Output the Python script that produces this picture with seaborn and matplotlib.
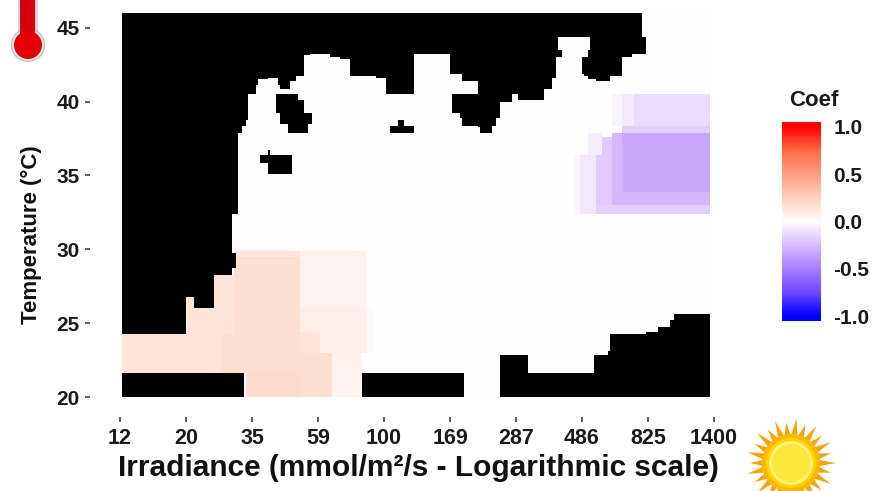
import matplotlib
matplotlib.use("Agg")
import matplotlib.pyplot as plt
from matplotlib.colors import LinearSegmentedColormap
from matplotlib.patches import Circle, FancyBboxPatch, Polygon
import numpy as np
import seaborn as sns

# grid of the model surface: 208 temperature rows, 294 irradiance bins
n_temp = 208
n_irr = 294

irradiance_ticks = [12, 20, 35, 59, 100, 169, 287, 486, 825, 1400]
irradiance_tick_bins = [-1, 32, 65, 98, 131, 164, 197, 230, 263, 296]
temperature_ticks = [20, 25, 30, 35, 40, 45]
temperature_tick_rows = [0, 40, 80, 120, 160, 200]
legend_ticks = [-1.0, -0.5, 0.0, 0.5, 1.0]

# no data: (first bin, last bin, first row) up to the top of the grid
missing_top = [
    (0, 32, 34), (32, 36, 54), (36, 46, 48), (46, 55, 66), (55, 58, 99),
    (58, 60, 143), (60, 62, 147), (62, 63, 150), (63, 67, 164), (67, 68, 169),
    (68, 73, 172), (73, 78, 173), (78, 79, 169), (79, 84, 167), (84, 87, 171),
    (87, 91, 174), (91, 94, 185), (94, 104, 186), (104, 109, 184), (109, 114, 183),
    (114, 127, 174), (127, 132, 173), (132, 146, 164), (146, 164, 186), (164, 170, 175),
    (170, 178, 171), (178, 179, 146), (179, 185, 143), (185, 187, 147), (187, 189, 151),
    (189, 195, 160), (195, 198, 164), (198, 211, 161), (211, 215, 167), (215, 217, 173),
    (217, 218, 184), (218, 230, 195), (230, 260, 195),
    (234, 237, 172), (237, 244, 171), (244, 250, 174), (250, 255, 184), (255, 260, 186),
]

# no data: (first bin, last bin, top row) from the bottom of the grid
missing_bottom = [
    (0, 61, 13), (120, 171, 13), (189, 203, 23), (203, 236, 13), (236, 243, 23),
    (243, 244, 25), (244, 262, 34), (262, 268, 35), (268, 274, 38), (274, 276, 42),
    (276, 294, 45),
]

# no data: (first row, last row, first bin, last bin) for the holes and overhangs
missing_blocks = [
    (70, 78, 55, 57),
    (161, 164, 77, 88), (154, 161, 77, 91), (148, 154, 79, 95), (143, 148, 83, 93),
    (131, 134, 73, 74), (127, 131, 69, 85), (121, 127, 73, 85),
    (143, 147, 134, 146), (147, 150, 138, 141),
    (154, 164, 165, 169), (151, 164, 169, 170), (147, 164, 170, 178),
    (184, 188, 218, 220), (175, 184, 230, 231), (174, 184, 231, 233),
    (172, 188, 233, 234), (186, 195, 260, 262),
]

# coefficient patches: (first row, last row, first bin, last bin, coef)
coef_patches = [
    (13, 34, 0, 50, 0.14), (34, 66, 32, 56, 0.14),
    (79, 81, 55, 112, 0.03), (79, 81, 112, 124, 0.01),
    (34, 79, 56, 89, 0.18), (76, 79, 56, 89, 0.13), (13, 34, 50, 100, 0.18), (0, 13, 62, 100, 0.19),
    (49, 79, 89, 122, 0.06), (35, 49, 89, 122, 0.09),
    (24, 35, 89, 99, 0.15), (24, 35, 99, 122, 0.09),
    (0, 24, 89, 105, 0.18), (0, 24, 105, 120, 0.06),
    (24, 49, 122, 126, 0.03),
    (147, 164, 256, 294, -0.13), (147, 164, 250, 256, -0.08), (147, 164, 245, 250, -0.04),
    (143, 147, 250, 294, -0.18), (111, 143, 250, 294, -0.33), (104, 143, 245, 250, -0.27),
    (104, 111, 250, 294, -0.27), (99, 104, 237, 294, -0.17), (104, 141, 237, 245, -0.19),
    (99, 131, 229, 237, -0.09), (131, 143, 233, 240, -0.07), (99, 131, 226, 229, -0.03),
]


# -----------------------------
# Build the two layers
# -----------------------------
def build_grids():
    coef = np.zeros((n_temp, n_irr))
    missing = np.zeros((n_temp, n_irr), dtype=bool)
    for r0, r1, c0, c1, value in coef_patches:
        coef[r0:r1, c0:c1] = value
    for c0, c1, r0 in missing_top:
        missing[r0:, c0:c1] = True
    for c0, c1, r1 in missing_bottom:
        missing[:r1, c0:c1] = True
    for r0, r1, c0, c1 in missing_blocks:
        missing[r0:r1, c0:c1] = True
    return coef, missing


# -----------------------------
# Thermometer and sun icons
# -----------------------------
def draw_icons(fig):
    over = fig.add_axes([0, 0, 1, 1], zorder=5)
    over.set_xlim(0, 885)
    over.set_ylim(491, 0)
    over.axis("off")

    over.add_patch(FancyBboxPatch((18, -20), 20, 60, boxstyle="round,pad=0", fc="#d8d8d8", ec="none"))
    over.add_patch(Circle((28, 45), 16.5, fc="#e8e8e8", ec="#bbbbbb", lw=0.8))
    over.add_patch(FancyBboxPatch((20, -20), 15, 60, boxstyle="round,pad=0", fc="#d80010", ec="none"))
    over.add_patch(Circle((28, 45), 14, fc="#e30000", ec="none"))
    for y in range(2, 28, 3):
        over.plot([21, 25], [y, y], color="#a00010", lw=0.4)

    angles = np.linspace(0, 2 * np.pi, 53)
    radii = np.where(np.arange(53) % 2 == 0, 43, 29)
    radii = radii + np.where(np.arange(53) % 4 == 0, 2, -2)
    star = np.column_stack([791 + radii * np.cos(angles), 463 + radii * np.sin(angles)])
    over.add_patch(Polygon(star, fc="#f7a40c", ec="none"))
    over.add_patch(Circle((791, 463), 29, fc="#fcb800", ec="none"))
    over.add_patch(Circle((791, 463), 25, fc="#ffd400", ec="none"))
    over.add_patch(Circle((791, 463), 22, fc="#fff27a", ec="none"))
    over.add_patch(Circle((791, 463), 19, fc="#ffe83c", ec="none"))


# -----------------------------
# Heatmap - coefficient surface
# -----------------------------
def coef_heatmap():
    coef, missing = build_grids()

    sns.set_theme(style="white")
    plt.rcParams["font.family"] = ["Liberation Sans", "DejaVu Sans"]
    plt.rcParams["font.weight"] = "bold"

    lim = 1.05
    stops = [
        (-1.05, "#0000ff"), (-1.0, "#0000ff"), (-0.75, "#6e48ff"), (-0.5, "#a880ff"),
        (-0.25, "#d8bbff"), (0.0, "#ffffff"), (0.25, "#ffd0bf"), (0.5, "#ff9e81"),
        (0.75, "#ff6a45"), (1.0, "#ff0000"), (1.05, "#ff0000"),
    ]
    cmap = LinearSegmentedColormap.from_list(
        "coef", [((v + lim) / (2 * lim), c) for v, c in stops]
    )

    fig = plt.figure(figsize=(8.85, 4.91), dpi=100)
    ax = fig.add_axes([90 / 885, 1 - 417 / 491, (714 - 90) / 885, (417 - 13) / 491])
    cax = fig.add_axes([782 / 885, 1 - 321 / 491, 39 / 885, 199 / 491])

    sns.heatmap(
        missing.astype(float), mask=~missing, cmap=["black"], cbar=False,
        xticklabels=False, yticklabels=False, ax=ax,
    )
    sns.heatmap(
        coef, mask=missing, cmap=cmap, vmin=-lim, vmax=lim, cbar_ax=cax,
        xticklabels=False, yticklabels=False, ax=ax,
    )

    ax.set_xlim(-16, 296)
    ax.set_ylim(-10.8, n_temp)
    ax.set_xticks(irradiance_tick_bins)
    ax.set_xticklabels(irradiance_ticks, fontsize=15.5, fontweight="bold", color="#1a1a1a")
    ax.set_yticks(temperature_tick_rows)
    ax.set_yticklabels(temperature_ticks, fontsize=15, fontweight="bold", color="#1a1a1a", rotation=0)
    ax.tick_params(axis="both", bottom=True, left=True, length=3.6, width=1.1, color="#333333", pad=4)
    for side in ax.spines.values():
        side.set_visible(False)

    fig.text(418 / 885, 1 - 468 / 491, "Irradiance (mmol/m²/s - Logarithmic scale)",
             ha="center", va="center", fontsize=21.5, fontweight="bold", color="#111111")
    fig.text(31 / 885, 1 - 235 / 491, "Temperature (°C)", rotation=90,
             ha="center", va="center", fontsize=16, fontweight="bold", color="#111111")
    fig.text(814 / 885, 1 - 100 / 491, "Coef", ha="center", va="center",
             fontsize=16, fontweight="bold", color="#1a1a1a")

    cbar = ax.collections[1].colorbar
    cbar.outline.set_visible(False)
    cbar.set_ticks(legend_ticks)
    cbar.set_ticklabels(["-1.0", "-0.5", "0.0", "0.5", "1.0"])
    cax.tick_params(axis="y", left=True, right=True, direction="in", length=5.5, width=0.6,
                    color="white", labelsize=15, labelcolor="#1a1a1a", pad=9)
    for label in cax.get_yticklabels():
        label.set_fontweight("bold")

    draw_icons(fig)
    fig.savefig("out.png", dpi=100)


coef_heatmap()
